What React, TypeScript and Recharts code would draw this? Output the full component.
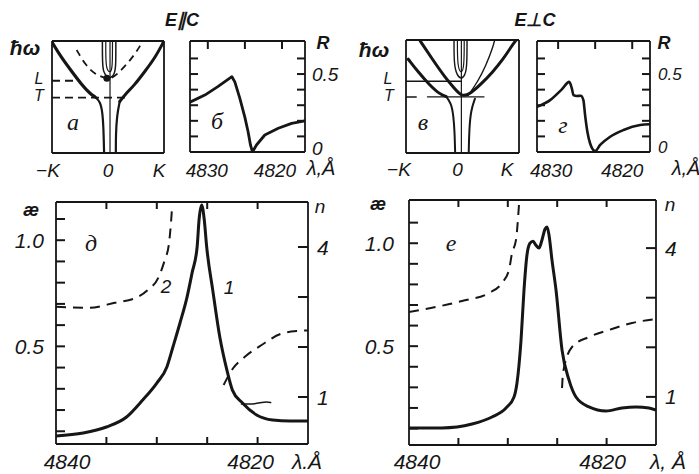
import React from 'react';
import { LineChart, Line, XAxis, YAxis } from 'recharts';

const INK = '#161616';
const SANS = '"Liberation Sans", Arial, sans-serif';
const SERIF = '"Liberation Serif", "Times New Roman", serif';

type XY = [number, number];

// ---------- Panel а (E∥C): dispersion ħω(K) ----------
const aLineL: XY[] = [[-1, 0.645], [-0.55, 0.645]];
const aLineT: XY[] = [[-1, 0.494], [0.33, 0.494]];
const aLowLeftUpper: XY[] = [[-1.0, 0.99], [-0.83, 0.85], [-0.65, 0.73], [-0.47, 0.61], [-0.32, 0.53], [-0.23, 0.5]];
const aLowLeftLower: XY[] = [[-0.23, 0.5], [-0.14, 0.46], [-0.1, 0.37], [-0.08, 0.22], [-0.07, 0]];
const aLowRightUpper: XY[] = [[1.0, 1.0], [0.84, 0.85], [0.66, 0.73], [0.48, 0.61], [0.3, 0.52], [0.21, 0.46]];
const aLowRightLower: XY[] = [[0.21, 0.46], [0.16, 0.34], [0.14, 0.16], [0.14, 0]];
const aLongExciton: XY[] = [[-0.56, 0.92], [-0.41, 0.79], [-0.23, 0.7], [-0.05, 0.67], [0.04, 0.66], [0.16, 0.7], [0.33, 0.79], [0.47, 0.875], [0.59, 0.97]];
const aUpperOuter: XY[] = [[-0.1, 1], [-0.1, 0.8], [-0.08, 0.72], [-0.02, 0.68], [0.04, 0.67], [0.1, 0.69], [0.13, 0.74], [0.14, 0.8], [0.14, 1]];
const aUpperInner: XY[] = [[-0.04, 1], [-0.04, 0.78], [0.0, 0.73], [0.04, 0.72], [0.08, 0.75], [0.08, 1]];
const aAxisK0: XY[] = [[0.036, 0], [0.036, 1]];
const aNode: XY[] = [[-0.02, 0.667]];

// ---------- Panel в (E⊥C): dispersion ħω(K) ----------
const vLineL: XY[] = [[-1, 0.635], [-0.02, 0.635]];
const vTickT: XY[] = [[-1, 0.496], [-0.82, 0.496]];
const vLineT: XY[] = [[-0.62, 0.496], [0.38, 0.496]];
const vBranchA: XY[] = [[-0.96, 0.83], [-0.79, 0.72], [-0.58, 0.6], [-0.4, 0.52], [-0.29, 0.5]];
const vBranchALower: XY[] = [[-0.29, 0.5], [-0.2, 0.44], [-0.16, 0.33], [-0.14, 0.19], [-0.13, 0]];
const vBranchB: XY[] = [[-0.76, 1.0], [-0.52, 0.82], [-0.31, 0.67], [-0.14, 0.57], [-0.02, 0.5], [0.13, 0.52], [0.33, 0.61], [0.54, 0.72], [0.72, 0.83], [0.86, 0.94], [0.95, 1.0]];
const vBranchC: XY[] = [[0.1, 0.51], [0.27, 0.63], [0.42, 0.78], [0.54, 0.94], [0.57, 1.0]];
const vRightLower: XY[] = [[0.22, 0.48], [0.15, 0.38], [0.12, 0.22], [0.11, 0]];
const vAxisK0: XY[] = [[-0.02, 0], [-0.02, 1]];
const vUpperOuter: XY[] = [[-0.15, 1], [-0.15, 0.78], [-0.1, 0.69], [-0.02, 0.65], [0.05, 0.69], [0.08, 0.78], [0.08, 1]];
const vUpperInner: XY[] = [[-0.09, 1], [-0.09, 0.76], [-0.02, 0.7], [0.03, 0.76], [0.03, 1]];

// ---------- Panels б, г: reflectance R(λ) ----------
const bReflect: XY[] = [[4832.4, 0.32], [4830.4, 0.365], [4828.65, 0.419], [4826.75, 0.483], [4826.36, 0.45], [4825.69, 0.346], [4825.01, 0.224], [4824.57, 0.13], [4824.25, 0.045], [4823.98, 0], [4823.44, 0.045], [4822.32, 0.109], [4820.5, 0.152], [4818.7, 0.184], [4816.9, 0.2]];
const gReflect: XY[] = [[4832.85, 0.29], [4831.08, 0.333], [4829.5, 0.402], [4828.5, 0.45], [4828.15, 0.408], [4827.93, 0.365], [4827.48, 0.359], [4826.94, 0.361], [4826.59, 0.333], [4826.36, 0.237], [4826.05, 0.13], [4825.69, 0.056], [4825.0, 0.006], [4824.33, 0.045], [4822.98, 0.098], [4821.18, 0.141], [4818.93, 0.173], [4817.6, 0.178]];

// ---------- Panel д: κ(λ) (1) and n(λ) (2) ----------
const dKappa: XY[] = [[4840, 0.078], [4837.3, 0.092], [4835.0, 0.12], [4833.0, 0.167], [4831.4, 0.247], [4830.0, 0.327], [4829.0, 0.403], [4828.4, 0.497], [4827.7, 0.61], [4827.0, 0.732], [4826.5, 0.846], [4826.0, 0.968], [4825.8, 1.1], [4825.55, 1.166], [4825.3, 1.1], [4825.05, 0.968], [4824.45, 0.765], [4823.75, 0.544], [4823.05, 0.389], [4822.5, 0.294], [4821.5, 0.233], [4820.1, 0.177], [4818.5, 0.153], [4816.8, 0.148], [4815, 0.148]];
const dIndexLong: XY[] = [[4840, 2.806], [4836.63, 2.786], [4834.16, 2.886], [4832.18, 2.974], [4830.89, 3.14], [4829.8, 3.406], [4829.21, 3.74], [4828.81, 4.04], [4828.61, 4.44], [4828.47, 4.84]];
const dIndexShort: XY[] = [[4823.37, 1.24], [4822.45, 1.57], [4821.29, 1.8], [4819.6, 2.04], [4817.72, 2.26], [4816.04, 2.32], [4815, 2.33]];
const dStroke: XY[] = [[4821.6, 0.228], [4820.3, 0.23], [4819.1, 0.238], [4818.7, 0.235]];

// ---------- Panel е: κ(λ) and n(λ) ----------
const eKappa: XY[] = [[4840, 0.103], [4836.66, 0.103], [4833.62, 0.122], [4831.6, 0.156], [4830.18, 0.2], [4829.37, 0.253], [4829.07, 0.321], [4828.66, 0.53], [4828.36, 0.773], [4828.06, 0.943], [4827.75, 1.0], [4827.45, 1.01], [4827.15, 0.99], [4826.84, 0.977], [4826.54, 1.016], [4826.23, 1.069], [4826.03, 1.079], [4825.83, 1.04], [4825.53, 0.919], [4825.12, 0.773], [4824.51, 0.481], [4823.81, 0.336], [4823.1, 0.253], [4821.78, 0.205], [4820.06, 0.185], [4818.44, 0.2], [4817.02, 0.205], [4815.71, 0.2], [4815, 0.19]];
const eIndexLong: XY[] = [[4840, 2.712], [4837.27, 2.813], [4834.64, 2.934], [4831.9, 3.095], [4830.59, 3.297], [4829.88, 3.559], [4829.57, 3.902], [4829.17, 4.164], [4828.87, 4.869]];
const eIndexShort: XY[] = [[4824.51, 1.18], [4824.41, 1.482], [4823.5, 2.006], [4821.78, 2.208], [4819.76, 2.349], [4817.43, 2.49], [4815, 2.571]];

// ---------- ticks & tick labels ----------
const lambdaTicks = [4835, 4830, 4825, 4820];
const lambdaTicksTop = [4830, 4825, 4820];
const kappaTicks = [0.1, 0.2, 0.3, 0.4, 0.5, 0.6, 0.7, 0.8, 0.9, 1.0, 1.1];
const nTicks = [1, 2, 3, 4];
const rTicks = [0.1, 0.2, 0.3, 0.4, 0.5, 0.6];

const kLabelValues = [-1, 0, 1];
const kLabelText = ['\u2212K', '0', 'K'];
const lambdaTopLabelValues = [4830, 4820];
const lambdaTopLabelText = ['4830', '4820'];
const lambdaLabelValues = [4840, 4820];
const lambdaLabelText = ['4840', '4820'];
const rLabelValues = [0, 0.5];
const rLabelText = ['0', '0.5'];
const kappaLabelValues = [0.5, 1.0];
const kappaLabelText = ['0.5', '1.0'];
const nLabelValues = [1, 4];
const nLabelText = ['1', '4'];

const toPts = (a: XY[]) => a.map(([x, y]) => ({ x, y }));
const near = (a: number, b: number) => Math.abs(a - b) < 1e-9;
const union = (a: number[], b: number[]) => {
  const out = [...a];
  b.forEach((v) => { if (!out.some((u) => near(u, v))) out.push(v); });
  return out;
};

type Side = 'top' | 'bottom' | 'left' | 'right';
interface Labels { values: number[]; text: string[]; gap: number; shift?: [number, number][]; size?: number }
interface SeriesSpec { pts: XY[]; w: number; dash?: string; right?: boolean; curve?: any; dot?: number }
interface PanelProps {
  box: [number, number, number, number];
  xDomain: [number, number];
  reversed?: boolean;
  yDomain: [number, number];
  y2Domain?: [number, number];
  xTicks?: number[]; leftTicks?: number[]; rightTicks?: number[];
  tl?: { top?: number; bottom?: number; left?: number; right?: number };
  bottomLabels?: Labels; leftLabels?: Labels; rightLabels?: Labels;
  series: SeriesSpec[];
}

// one renderer per side: an inward tick mark at the frame for tick values, and/or a text label
const sideRenderer = (side: Side, edge: number, len: number, tickVals: number[], labels?: Labels) => (p: any) => {
  const v = p.payload?.value;
  const c = side === 'top' || side === 'bottom' ? p.x : p.y;
  const isTick = len > 0 && tickVals.some((u) => near(u, v));
  const li = labels ? labels.values.findIndex((u) => near(u, v)) : -1;
  const st = { stroke: INK, strokeWidth: 2 };
  let mark: any = null;
  if (isTick) {
    if (side === 'bottom') mark = <line x1={c} x2={c} y1={edge} y2={edge - len} {...st} />;
    else if (side === 'top') mark = <line x1={c} x2={c} y1={edge} y2={edge + len} {...st} />;
    else if (side === 'left') mark = <line x1={edge} x2={edge + len} y1={c} y2={c} {...st} />;
    else mark = <line x1={edge} x2={edge - len} y1={c} y2={c} {...st} />;
  }
  let label: any = null;
  if (labels && li >= 0) {
    const [dx, dy] = labels.shift?.[li] ?? [0, 0];
    const anchor = side === 'left' ? 'end' : side === 'right' ? 'start' : 'middle';
    label = (
      <text x={p.x + dx} y={p.y + dy} textAnchor={anchor} dominantBaseline="central"
        fontFamily={SANS} fontStyle="italic" fontSize={labels.size ?? 20} fill={INK}>
        {labels.text[li]}
      </text>
    );
  }
  return <g>{mark}{label}</g>;
};

const M = 24;
function Panel(p: PanelProps) {
  const [left, top, w, h] = p.box;
  const LW = p.leftLabels ? 50 : 1;
  const RW = p.rightLabels ? 44 : 1;
  const BH = p.bottomLabels ? 36 : 1;
  const TH = 1;
  const y2 = p.y2Domain ?? p.yDomain;
  const ls = { stroke: INK, strokeWidth: 1.8 };
  const tl = { top: 7, bottom: 0, left: 8, right: 8, ...(p.tl ?? {}) };
  const pl = M + LW, pr = M + LW + w, pt = M + TH, pb = M + TH + h;
  const xT = p.xTicks ?? [];
  const lT = p.leftTicks ?? [];
  const rT = p.rightTicks ?? [];
  const bVals = union(tl.bottom > 0 ? xT : [], p.bottomLabels?.values ?? []);
  const tVals = tl.top > 0 ? xT : [];
  const lVals = union(lT, p.leftLabels?.values ?? []);
  const rVals = union(rT, p.rightLabels?.values ?? []);
  const common = { type: 'number' as const, allowDataOverflow: true, interval: 0 as const, axisLine: false, tickLine: false, tickSize: 0 };
  return (
    <div style={{ position: 'absolute', left: left - M - LW, top: top - M - TH }}>
      <LineChart width={w + 2 * M + LW + RW} height={h + 2 * M + BH + TH} margin={{ top: M, right: M, bottom: M, left: M }}>
        {/* frame */}
        <XAxis xAxisId="b" dataKey="x" type="number" domain={p.xDomain} allowDataOverflow reversed={p.reversed}
          orientation="bottom" mirror ticks={p.xDomain} tick={false} tickLine={false} axisLine={ls} />
        <XAxis xAxisId="t" dataKey="x" type="number" domain={p.xDomain} allowDataOverflow reversed={p.reversed}
          orientation="top" mirror ticks={p.xDomain} tick={false} tickLine={false} axisLine={ls} />
        <YAxis yAxisId="l" type="number" domain={p.yDomain} allowDataOverflow orientation="left" mirror
          ticks={p.yDomain} tick={false} tickLine={false} axisLine={ls} />
        <YAxis yAxisId="r" type="number" domain={y2} allowDataOverflow orientation="right" mirror
          ticks={y2} tick={false} tickLine={false} axisLine={ls} />
        {/* tick marks and labels, one axis per side */}
        <XAxis xAxisId="bl" dataKey="x" {...common} domain={p.xDomain} reversed={p.reversed} orientation="bottom"
          height={BH} ticks={bVals} tickMargin={p.bottomLabels?.gap ?? 0}
          tick={sideRenderer('bottom', pb, tl.bottom, xT, p.bottomLabels)} />
        <XAxis xAxisId="tl" dataKey="x" {...common} domain={p.xDomain} reversed={p.reversed} orientation="top"
          height={TH} ticks={tVals} tick={sideRenderer('top', pt, tl.top, xT)} />
        <YAxis yAxisId="ll" {...common} domain={p.yDomain} orientation="left" width={LW} ticks={lVals}
          tickMargin={p.leftLabels?.gap ?? 0} tick={sideRenderer('left', pl, tl.left, lT, p.leftLabels)} />
        <YAxis yAxisId="rl" {...common} domain={y2} orientation="right" width={RW} ticks={rVals}
          tickMargin={p.rightLabels?.gap ?? 0} tick={sideRenderer('right', pr, tl.right, rT, p.rightLabels)} />
        {p.series.map((s, i) => (
          <Line key={i} xAxisId="b" yAxisId={s.right ? 'r' : 'l'} data={toPts(s.pts)} dataKey="y"
            type={s.curve ?? 'linear'} stroke={INK} strokeWidth={s.w} strokeDasharray={s.dash}
            strokeLinecap={s.dash ? 'butt' : 'round'} strokeLinejoin="round"
            dot={s.dot ? { r: s.dot, fill: INK, stroke: INK, strokeWidth: 0 } : false}
            activeDot={false} isAnimationActive={false} />
        ))}
      </LineChart>
    </div>
  );
}

function Txt({ t, x, y, size = 18, font = SANS, bold = false, italic = true }: any) {
  return (
    <div style={{ position: 'absolute', left: x, top: y, transform: 'translate(-50%,-50%)', fontFamily: font,
      fontSize: size, fontStyle: italic ? 'italic' : 'normal', fontWeight: bold ? 700 : 400, color: INK,
      lineHeight: 1, whiteSpace: 'nowrap' }}>{t}</div>
  );
}

export default function App() {
  const kLabelsA: Labels = { values: kLabelValues, text: kLabelText, gap: 17, shift: [[-4, 0], [0, 0], [-5, 0]], size: 19 };
  const kLabelsV: Labels = { values: kLabelValues, text: kLabelText, gap: 16.5, shift: [[-7, 0], [-5, 0], [-12, 0]], size: 19 };
  return (
    <div style={{ position: 'absolute', left: 0, top: 0, width: 699, height: 474, overflow: 'hidden', background: '#fff' }}>
      {/* а */}
      <Panel box={[52, 41, 112, 112]} xDomain={[-1, 1]} yDomain={[0, 1]} bottomLabels={kLabelsA}
        series={[
          { pts: aLineL, w: 1.8, dash: '8 5' },
          { pts: aLineT, w: 1.8, dash: '8 5' },
          { pts: aLowLeftUpper, w: 3.2, curve: 'basis' },
          { pts: aLowLeftLower, w: 2.2, curve: 'basis' },
          { pts: aLowRightUpper, w: 3, curve: 'basis' },
          { pts: aLowRightLower, w: 2.2, curve: 'basis' },
          { pts: aLongExciton, w: 1.8, dash: '7 5', curve: 'basis' },
          { pts: aUpperOuter, w: 1.5, curve: 'basis' },
          { pts: aUpperInner, w: 1.2, curve: 'basis' },
          { pts: aAxisK0, w: 1.2 },
          { pts: aNode, w: 1, dot: 3.5 },
        ]} />
      {/* б */}
      <Panel box={[190, 41, 115, 111]} xDomain={[4816.9, 4832.4]} reversed yDomain={[0, 0.712]}
        xTicks={lambdaTicksTop} leftTicks={rTicks} rightTicks={rTicks} tl={{ top: 8, bottom: 0, left: 8, right: 8 }}
        bottomLabels={{ values: lambdaTopLabelValues, text: lambdaTopLabelText, gap: 18.5, shift: [[-1, 0], [-7, 0]], size: 19 }}
        rightLabels={{ values: rLabelValues, text: rLabelText, gap: 7, shift: [[0, -4], [0, 0]], size: 19 }}
        series={[{ pts: bReflect, w: 2.8 }]} />
      {/* в */}
      <Panel box={[406, 40, 113, 113]} xDomain={[-1, 1]} yDomain={[0, 1]} bottomLabels={kLabelsV}
        series={[
          { pts: vLineL, w: 1.5 },
          { pts: vTickT, w: 1.5 },
          { pts: vLineT, w: 1.2 },
          { pts: vBranchA, w: 3, curve: 'basis' },
          { pts: vBranchALower, w: 2, curve: 'basis' },
          { pts: vBranchB, w: 3, curve: 'basis' },
          { pts: vBranchC, w: 1.4, curve: 'basis' },
          { pts: vRightLower, w: 2, curve: 'basis' },
          { pts: vAxisK0, w: 1.2 },
          { pts: vUpperOuter, w: 1.4, curve: 'basis' },
          { pts: vUpperInner, w: 1.2, curve: 'basis' },
        ]} />
      {/* г */}
      <Panel box={[537, 41, 113, 111]} xDomain={[4817.6, 4832.85]} reversed yDomain={[0, 0.712]}
        xTicks={lambdaTicksTop} leftTicks={rTicks} rightTicks={rTicks} tl={{ top: 8, bottom: 0, left: 8, right: 8 }}
        bottomLabels={{ values: lambdaTopLabelValues, text: lambdaTopLabelText, gap: 18.5, shift: [[-7, 0], [-10, 0]], size: 19 }}
        rightLabels={{ values: rLabelValues, text: rLabelText, gap: 8, shift: [[0, -4.5], [0, 0]], size: 17 }}
        series={[{ pts: gReflect, w: 2.6, curve: 'monotone' }]} />
      {/* д */}
      <Panel box={[56, 202, 252, 242]} xDomain={[4815, 4840]} reversed yDomain={[0.04, 1.18]} y2Domain={[0.06, 4.9]}
        xTicks={lambdaTicks} leftTicks={kappaTicks} rightTicks={nTicks}
        tl={{ top: 7, bottom: 7, left: 9, right: 10 }}
        leftLabels={{ values: kappaLabelValues, text: kappaLabelText, gap: 12, size: 21 }}
        rightLabels={{ values: nLabelValues, text: nLabelText, gap: 9, size: 21 }}
        bottomLabels={{ values: lambdaLabelValues, text: lambdaLabelText, gap: 17.5, shift: [[11, 0], [-7, 0]], size: 21 }}
        series={[
          { pts: dKappa, w: 3, curve: 'monotone' },
          { pts: dIndexLong, w: 2, dash: '10 7', right: true, curve: 'monotone' },
          { pts: dIndexShort, w: 2, dash: '10 7', right: true, curve: 'monotone' },
          { pts: dStroke, w: 1.5, curve: 'monotone' },
        ]} />
      {/* е */}
      <Panel box={[409, 200, 247, 245]} xDomain={[4815, 4840]} reversed yDomain={[0.02, 1.21]} y2Domain={[0.03, 4.97]}
        xTicks={lambdaTicks} leftTicks={kappaTicks} rightTicks={nTicks}
        tl={{ top: 7, bottom: 7, left: 9, right: 10 }}
        leftLabels={{ values: kappaLabelValues, text: kappaLabelText, gap: 15, size: 21 }}
        rightLabels={{ values: nLabelValues, text: nLabelText, gap: 9, size: 21 }}
        bottomLabels={{ values: lambdaLabelValues, text: lambdaLabelText, gap: 16.5, shift: [[8, 0], [-4, 0]], size: 21 }}
        series={[
          { pts: eKappa, w: 3, curve: 'monotone' },
          { pts: eIndexLong, w: 2, dash: '10 7', right: true, curve: 'monotone' },
          { pts: eIndexShort, w: 2, dash: '10 7', right: true, curve: 'monotone' },
        ]} />

      {/* captions */}
      <Txt t="E∥C" x={182} y={20} size={18} bold />
      <Txt t="E⊥C" x={535} y={20} size={18} bold />
      <Txt t="ħω" x={25} y={47} size={21} bold />
      <Txt t="L" x={39} y={79} size={16} />
      <Txt t="T" x={39} y={96} size={16} />
      <Txt t="а" x={73} y={122} size={24} font={SERIF} />
      <Txt t="б" x={217} y={121} size={24} font={SERIF} />
      <Txt t="R" x={323} y={43} size={18} bold />
      <Txt t="λ,Å" x={321} y={168} size={20} />
      <Txt t="ħω" x={374} y={49} size={21} bold />
      <Txt t="L" x={388} y={79} size={16} />
      <Txt t="T" x={389} y={96} size={16} />
      <Txt t="в" x={423} y={122} size={24} font={SERIF} />
      <Txt t="г" x={563} y={125} size={24} font={SERIF} />
      <Txt t="R" x={664} y={43} size={18} bold />
      <Txt t="λ,Å" x={686} y={168} size={20} />
      <Txt t="æ" x={31} y={210} size={18} bold />
      <Txt t="n" x={320} y={206} size={19} />
      <Txt t="д" x={91} y={243} size={24} font={SERIF} />
      <Txt t="2" x={166} y={286} size={19} />
      <Txt t="1" x={229} y={287} size={19} />
      <Txt t="λ.Å" x={307} y={461} size={21} />
      <Txt t="æ" x={378} y={204} size={18} bold />
      <Txt t="n" x={670} y={204} size={19} />
      <Txt t="е" x={451} y={243} size={24} font={SERIF} />
      <Txt t="λ, Å" x={668} y={461} size={21} />
    </div>
  );
}
